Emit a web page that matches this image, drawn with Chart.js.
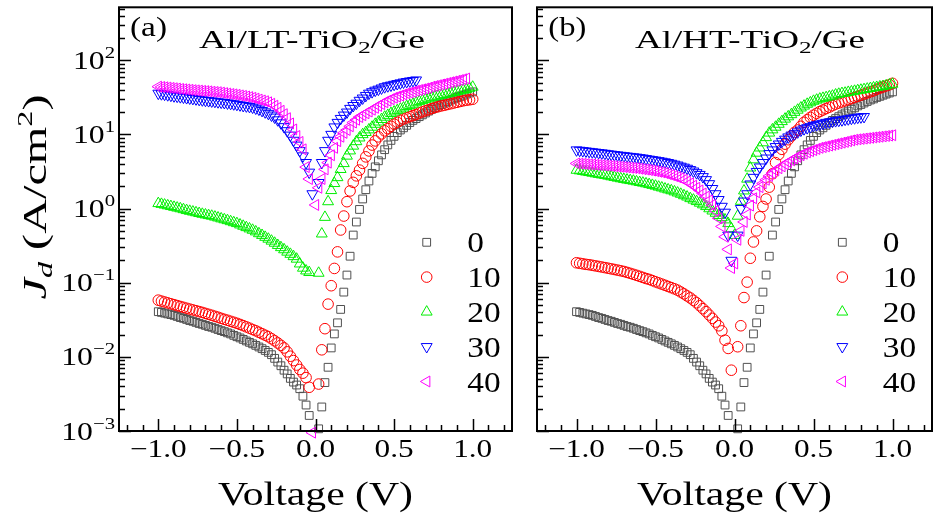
<!DOCTYPE html>
<html>
<head>
<meta charset="utf-8">
<script src="https://cdn.jsdelivr.net/npm/chart.js@4.4.1/dist/chart.umd.min.js"></script>
<style>
  body { margin: 0; background: #fff; }
  #wrap { position: relative; width: 942px; height: 521px; }
  #wrap canvas { position: absolute; top: 0; }
</style>
</head>
<body>
<div id="wrap">
  <canvas id="panelA" width="520" height="521" style="left:0"></canvas>
  <canvas id="panelB" width="422" height="521" style="left:520px"></canvas>
</div>
<script>
// bias voltage (V)
var volts = [
  -1.00, -0.98, -0.96, -0.94, -0.92, -0.90, -0.88, -0.86, -0.84, -0.82,
  -0.80, -0.78, -0.76, -0.74, -0.72, -0.70, -0.68, -0.66, -0.64, -0.62,
  -0.60, -0.58, -0.56, -0.54, -0.52, -0.50, -0.48, -0.46, -0.44, -0.42,
  -0.40, -0.38, -0.36, -0.34, -0.32, -0.30, -0.28, -0.26, -0.24, -0.22,
  -0.20, -0.18, -0.16, -0.14, -0.12, -0.10, -0.08, -0.06, -0.04, -0.02,
  0.00,
  0.02, 0.04, 0.06, 0.08, 0.10, 0.12, 0.14, 0.16, 0.18, 0.20,
  0.22, 0.24, 0.26, 0.28, 0.30, 0.32, 0.34, 0.36, 0.38, 0.40,
  0.42, 0.44, 0.46, 0.48, 0.50, 0.52, 0.54, 0.56, 0.58, 0.60,
  0.62, 0.64, 0.66, 0.68, 0.70, 0.72, 0.74, 0.76, 0.78, 0.80,
  0.82, 0.84, 0.86, 0.88, 0.90, 0.92, 0.94, 0.96, 0.98, 1.00
];

var thicknessLabels = ['0', '10', '20', '30', '40'];

// J_d (A/cm2), no TiO2 (same curve in both panels)
var jdRef = [
  0.0407, 0.0398, 0.0389, 0.0380, 0.0372, 0.0363, 0.0351, 0.0339, 0.0331, 0.0320,
  0.0309, 0.0302, 0.0292, 0.0282, 0.0275, 0.0266, 0.0257, 0.0251, 0.0243, 0.0234,
  0.0226, 0.0219, 0.0211, 0.0204, 0.0195, 0.0187, 0.0180, 0.0172, 0.0164, 0.0157,
  0.0150, 0.0143, 0.0136, 0.0129, 0.0122, 0.0115, 0.0107, 0.00955, 0.00851, 0.00759,
  0.00661, 0.00589, 0.00513, 0.00457, 0.00417, 0.00372, 0.00295, 0.00224, 0.00162, null,
  null,
  0.00107, 0.00211, 0.0045, 0.00724, 0.0132, 0.0204, 0.0288, 0.0437, 0.0748, 0.127,
  0.228, 0.44, 0.66, 0.975, 1.35, 1.80, 2.36, 2.99, 3.66, 4.42,
  5.31, 6.24, 7.24, 8.32, 9.44, 10.6, 11.5, 12.3, 13.3, 14.5,
  15.5, 16.4, 17.4, 18.4, 19.5, 20.7, 21.9, 22.9, 24.3, 25.4,
  26.6, 27.9, 29.2, 30.2, 31.6, 32.7, 33.9, 35.1, 36.3, 37.6
];

// (a) Al/LT-TiO2/Ge
var jdLT10 = [
  0.0582, 0.0565, 0.0550, 0.0535, 0.0520, 0.0506, 0.0492, 0.0479, 0.0466, 0.0453,
  0.0441, 0.0430, 0.0419, 0.0408, 0.0398, 0.0386, 0.0375, 0.0364, 0.0353, 0.0343,
  0.0331, 0.0321, 0.0312, 0.0302, 0.0293, 0.0284, 0.0274, 0.0264, 0.0254, 0.0244,
  0.0234, 0.0225, 0.0215, 0.0205, 0.0196, 0.0187, 0.0176, 0.0165, 0.0154, 0.0143,
  0.0132, 0.0117, 0.0102, 0.00891, 0.00776, 0.00676, 0.00603, 0.00525, 0.00389, null,
  null,
  0.0043, 0.01245, 0.024, 0.0515, 0.0912, 0.156, 0.261, 0.515, 0.794, 1.24,
  1.73, 2.26, 2.77, 3.31, 4.08, 4.99, 6.0, 7.2, 8.2, 9.3,
  10.2, 11.2, 12.0, 12.9, 13.8, 14.6, 15.5, 16.2, 16.8, 17.4,
  18.0, 18.6, 19.5, 20.2, 20.9, 21.6, 22.4, 23.2, 23.7, 24.3,
  24.8, 25.4, 26.0, 26.6, 27.2, 27.9, 28.5, 29.0, 29.4, 29.9
];
var jdLT20 = [
  1.175, 1.148, 1.122, 1.096, 1.072, 1.047, 1.023, 1.0, 0.973, 0.946,
  0.925, 0.904, 0.883, 0.863, 0.843, 0.826, 0.809, 0.794, 0.773, 0.752,
  0.731, 0.711, 0.692, 0.670, 0.649, 0.631, 0.605, 0.581, 0.557, 0.535,
  0.513, 0.488, 0.461, 0.437, 0.412, 0.389, 0.366, 0.343, 0.320, 0.299,
  0.280, 0.260, 0.243, 0.226, 0.209, 0.180, 0.158, 0.145, 0.138, null,
  null,
  0.135, 0.457, 0.766, 1.245, 1.76, 2.19, 2.63, 3.39, 4.07, 5.13,
  6.03, 7.0, 8.04, 9.02, 10.0, 10.7, 11.6, 12.6, 13.8, 14.8,
  16.0, 17.2, 18.2, 19.3, 20.2, 21.1, 22.1, 22.9, 24.0, 24.8,
  25.7, 26.9, 27.9, 28.8, 29.9, 30.5, 31.6, 32.4, 33.1, 33.9,
  34.7, 35.5, 36.3, 37.2, 38.0, 38.9, 39.8, 40.7, 42.2, 43.7
];
var jdLT30 = [
  35.9, 35.3, 34.8, 34.2, 33.7, 33.1, 32.7, 32.2, 31.8, 31.3,
  30.9, 30.5, 30.1, 29.6, 29.2, 28.8, 28.5, 28.2, 27.9, 27.5,
  27.2, 26.9, 26.5, 26.2, 25.8, 25.4, 25.0, 24.5, 24.2, 23.8,
  23.3, 22.6, 21.9, 21.0, 20.1, 19.2, 18.2, 17.1, 15.7, 14.3,
  12.7, 11.2, 9.77, 8.32, 7.16, 6.03, 5.13, 4.17, 3.09, 1.58,
  null,
  2.24, 4.17, 6.03, 8.32, 10.0, 12.6, 14.5, 16.4, 18.2, 20.0,
  22.4, 24.5, 26.3, 28.8, 30.9, 33.5, 35.9, 37.6, 39.4, 40.7,
  42.2, 43.9, 45.2, 46.2, 47.3, 48.4, 49.5, 50.7, 51.6, 52.5,
  53.3, 54.2, null, null, null, null, null, null, null, null,
  null, null, null, null, null, null, null, null, null, null
];
var jdLT40 = [
  44.2, 43.8, 43.4, 43.0, 42.5, 42.1, 41.7, 41.2, 40.8, 40.5,
  40.1, 39.7, 39.4, 39.1, 38.8, 38.5, 38.2, 37.8, 37.5, 37.2,
  36.7, 36.2, 35.7, 35.2, 34.8, 34.3, 33.7, 33.2, 32.6, 32.0,
  31.3, 30.5, 29.6, 28.8, 28.1, 27.2, 26.0, 24.5, 22.9, 20.9,
  18.8, 16.6, 14.1, 11.7, 9.55, 7.94, 6.31, 3.63, 2.51, 0.00095,
  1.12,
  1.91, 2.51, 3.39, 4.17, 5.25, 6.61, 8.13, 9.33, 10.5, 11.5,
  12.9, 14.5, 15.8, 17.2, 18.2, 19.3, 20.4, 21.6, 22.9, 24.3,
  25.7, 27.2, 28.5, 29.9, 31.3, 32.4, 33.5, 34.7, 35.9, 36.7,
  37.6, 38.9, 39.8, 40.7, 41.7, 42.7, 44.2, 45.2, 46.2, 47.3,
  48.4, 49.5, 50.7, 51.9, 53.1, 54.3, 55.6, 56.9, null, null
];

// (b) Al/HT-TiO2/Ge
var jdHT10 = [
  0.186, 0.183, 0.180, 0.177, 0.175, 0.172, 0.169, 0.166, 0.163, 0.160,
  0.157, 0.154, 0.151, 0.148, 0.145, 0.142, 0.138, 0.134, 0.130, 0.126,
  0.122, 0.118, 0.114, 0.111, 0.107, 0.103, 0.0995, 0.0959, 0.0925, 0.0891,
  0.0859, 0.0828, 0.0794, 0.0750, 0.0708, 0.0664, 0.0624, 0.0579, 0.0537, 0.0490,
  0.0447, 0.0407, 0.0367, 0.0331, 0.0295, 0.0263, 0.0224, 0.0168, 0.0130, 0.00661,
  null,
  0.0137, 0.0263, 0.0631, 0.102, 0.214, 0.355, 0.501, 0.776, 1.07, 1.35,
  1.95, 2.95, 4.17, 5.37, 6.31, 7.41, 8.51, 9.55, 10.7, 11.5,
  12.9, 14.6, 15.8, 17.0, 18.2, 19.3, 20.4, 21.4, 22.4, 23.4,
  24.5, 25.7, 26.6, 27.5, 28.5, 29.5, 30.5, 31.6, 32.7, 33.9,
  35.1, 36.3, 37.6, 38.9, 40.7, 42.2, 43.7, 45.2, 46.8, 49.0
];
var jdHT20 = [
  3.31, 3.25, 3.19, 3.13, 3.08, 3.02, 2.96, 2.91, 2.86, 2.82,
  2.76, 2.70, 2.65, 2.59, 2.54, 2.49, 2.44, 2.40, 2.36, 2.31,
  2.26, 2.22, 2.17, 2.12, 2.07, 2.02, 1.96, 1.91, 1.85, 1.80,
  1.75, 1.69, 1.63, 1.57, 1.50, 1.44, 1.37, 1.31, 1.25, 1.19,
  1.13, 1.07, 1.0, 0.933, 0.871, 0.813, 0.759, 0.708, 0.631, 0.537,
  0.437,
  0.794, 1.26, 1.74, 2.51, 3.55, 4.57, 5.62, 6.61, 7.76, 9.12,
  10.5, 11.6, 12.6, 13.8, 15.0, 16.2, 17.4, 18.6, 20.0, 21.4,
  22.9, 24.3, 25.7, 26.9, 28.2, 29.2, 30.2, 30.9, 31.6, 32.4,
  33.1, 34.3, 35.1, 35.9, 36.3, 37.2, 37.8, 38.5, 39.2, 39.8,
  40.5, 41.2, 41.9, 42.7, 43.4, 44.1, 44.7, 45.7, 46.8, 47.9
];
var jdHT30 = [
  6.17, 6.10, 6.03, 5.96, 5.89, 5.82, 5.75, 5.69, 5.62, 5.55,
  5.47, 5.40, 5.33, 5.27, 5.21, 5.15, 5.09, 5.04, 4.98, 4.92,
  4.85, 4.79, 4.71, 4.63, 4.56, 4.49, 4.42, 4.34, 4.26, 4.17,
  4.07, 3.96, 3.85, 3.72, 3.61, 3.49, 3.35, 3.20, 3.04, 2.88,
  2.69, 2.45, 2.16, 1.86, 1.58, 1.32, 1.07, 0.891, 0.437, 0.20,
  null,
  0.437, 1.0, 1.26, 1.58, 2.14, 2.63, 3.16, 3.63, 4.17, 4.79,
  5.50, 6.17, 6.84, 7.41, 8.04, 8.61, 9.23, 9.77, 10.2, 10.8,
  11.4, 11.9, 12.3, 12.7, 13.2, 13.5, 13.8, 14.1, 14.5, 14.7,
  15.0, 15.3, 15.5, 15.7, 16.0, 16.2, 16.5, 16.7, 17.0, 17.2,
  17.4, null, null, null, null, null, null, null, null, null
];
var jdHT40 = [
  4.07, 4.05, 4.02, 3.99, 3.96, 3.94, 3.91, 3.88, 3.85, 3.83,
  3.80, 3.77, 3.73, 3.70, 3.66, 3.63, 3.60, 3.56, 3.53, 3.50,
  3.45, 3.40, 3.36, 3.31, 3.26, 3.20, 3.14, 3.08, 3.01, 2.92,
  2.84, 2.75, 2.66, 2.57, 2.45, 2.32, 2.19, 2.04, 1.91, 1.76,
  1.60, 1.45, 1.29, 1.12, 0.933, 0.741, 0.575, 0.417, 0.282, 0.158,
  0.182,
  0.380, 0.501, 0.661, 0.832, 1.10, 1.38, 1.66, 1.95, 2.19, 2.45,
  2.75, 3.02, 3.27, 3.51, 3.72, 3.98, 4.22, 4.47, 4.73, 5.01,
  5.25, 5.50, 5.75, 5.96, 6.17, 6.38, 6.61, 6.76, 6.92, 7.08,
  7.24, 7.41, 7.59, 7.76, 7.94, 8.13, 8.32, 8.51, 8.61, 8.71,
  8.81, 8.91, 9.02, 9.12, 9.23, 9.33, 9.44, 9.55, 9.66, 9.77
];

// axis ticks
var xMajorTicks = [-1.0, -0.5, 0.0, 0.5, 1.0];
var xMajorLabels = ['\u22121.0', '\u22120.5', '0.0', '0.5', '1.0'];
var yDecadeTicks = [1e-3, 1e-2, 1e-1, 1, 10, 100];
var yDecadeExponents = ['\u22123', '\u22122', '\u22121', '0', '1', '2'];

var markerStyles = [
  { pointStyle: 'rect', rotation: 0, radius: 5.5, color: '#505050' },
  { pointStyle: 'circle', rotation: 0, radius: 5.3, color: '#ff0000' },
  { pointStyle: 'triangle', rotation: 0, radius: 6.3, color: '#00ee00' },
  { pointStyle: 'triangle', rotation: 180, radius: 6.3, color: '#0000ff' },
  { pointStyle: 'triangle', rotation: 270, radius: 6.3, color: '#ff00ff' }
];

var SERIF = '"Liberation Serif", serif';

function partsWidth(ctx, parts) {
  var w = 0;
  parts.forEach(function (p) { ctx.font = p.font; w += ctx.measureText(p.text).width; });
  return w;
}

// draw a run of text pieces (sub/superscripts via dy), stretched horizontally by sx
function drawParts(ctx, parts, x, y, align, sx) {
  sx = sx || 1;
  var w = partsWidth(ctx, parts) * sx;
  var cx = align === 'right' ? x - w : (align === 'center' ? x - w / 2 : x);
  ctx.textAlign = 'left';
  ctx.textBaseline = 'alphabetic';
  parts.forEach(function (p) {
    ctx.font = p.font;
    ctx.save();
    ctx.translate(cx, y + (p.dy || 0));
    ctx.scale(sx, 1);
    ctx.fillText(p.text, 0, 0);
    ctx.restore();
    cx += ctx.measureText(p.text).width * sx;
  });
}

function drawFit(ctx, parts, x, y, align, width) {
  drawParts(ctx, parts, x, y, align, width / partsWidth(ctx, parts));
}

function drawMarker(ctx, st, x, y) {
  ctx.strokeStyle = st.color;
  ctx.fillStyle = 'rgba(0,0,0,0)';
  ctx.lineWidth = 1;
  Chart.helpers.drawPoint(ctx, { pointStyle: st.pointStyle, rotation: st.rotation, radius: st.radius, borderWidth: 1 }, x, y);
}

var panelDecor = {
  id: 'panelDecor',
  afterDatasetsDraw: function (chart, args, o) {
    var ctx = chart.ctx, a = chart.chartArea;
    var xs = chart.scales.x, ys = chart.scales.y;
    ctx.save();
    ctx.strokeStyle = '#000';
    ctx.fillStyle = '#000';

    // inward tick marks
    ctx.lineWidth = 1.5;
    ctx.beginPath();
    for (var k = -12; k <= 12; k++) {
      var px = Math.round(xs.getPixelForValue(k / 10)) + 0.5;
      var len = k % 5 === 0 ? 12 : 6;
      ctx.moveTo(px, a.bottom);
      ctx.lineTo(px, a.bottom - len);
    }
    yDecadeTicks.forEach(function (d) {
      for (var m = 1; m <= 9; m++) {
        var v = d * m;
        if (v > ys.max) break;
        var py = Math.round(ys.getPixelForValue(v)) + 0.5;
        ctx.moveTo(a.left, py);
        ctx.lineTo(a.left + (m === 1 ? 12 : 6), py);
      }
    });
    ctx.stroke();

    ctx.lineWidth = 2;
    ctx.strokeRect(a.left, a.top, a.right - a.left, a.bottom - a.top);

    // x tick labels and title
    xMajorTicks.forEach(function (v, i) {
      drawParts(ctx, [{ text: xMajorLabels[i], font: '25px ' + SERIF }],
        xs.getPixelForValue(v), a.bottom + 25.5, 'center', 1.25);
    });
    drawFit(ctx, [{ text: 'Voltage (V)', font: '33px ' + SERIF }],
      xs.getPixelForValue(0), 505, 'center', 195);

    // y tick labels and title (left panel only)
    if (o.yLabels) {
      yDecadeTicks.forEach(function (d, i) {
        drawParts(ctx, [
          { text: '10', font: '26px ' + SERIF },
          { text: yDecadeExponents[i], font: '17px ' + SERIF, dy: -11 }
        ], a.left - 4, ys.getPixelForValue(d) + 8.5, 'right', 1.22);
      });
      ctx.save();
      ctx.translate(46, 197);
      ctx.rotate(-Math.PI / 2);
      drawFit(ctx, [
        { text: 'J', font: 'italic 33px ' + SERIF },
        { text: 'd', font: 'italic 22px ' + SERIF, dy: 6 },
        { text: ' (A/cm', font: '33px ' + SERIF },
        { text: '2', font: '22px ' + SERIF, dy: -14 },
        { text: ')', font: '33px ' + SERIF }
      ], 0, 0, 'center', 205);
      ctx.restore();
    }

    // panel tag and sample name
    drawFit(ctx, [{ text: o.tag, font: '27px ' + SERIF }], o.tagX, 36, 'left', o.tagW);
    drawFit(ctx, [
      { text: o.name[0], font: '25px ' + SERIF },
      { text: '2', font: '17px ' + SERIF, dy: 5 },
      { text: o.name[1], font: '25px ' + SERIF }
    ], o.nameX, 48.3, 'left', o.nameW);

    // legend
    chart.data.datasets.forEach(function (ds, i) {
      var y = 242.3 + i * 34.8;
      drawMarker(ctx, markerStyles[i], o.legendX, y);
      ctx.fillStyle = '#000';
      drawParts(ctx, [{ text: ds.label, font: '29px ' + SERIF }], o.legendX + 40.5, y + 10, 'left', 1.15);
    });
    ctx.restore();
  }
};

function toPoints(values) {
  return volts.map(function (v, i) { return { x: v, y: values[i] }; });
}

function makeDatasets(seriesList) {
  return seriesList.map(function (vals, i) {
    var st = markerStyles[i];
    return {
      label: thicknessLabels[i],
      data: toPoints(vals),
      showLine: false,
      pointStyle: st.pointStyle,
      pointRotation: st.rotation,
      pointRadius: st.radius,
      pointHoverRadius: st.radius,
      pointBorderWidth: 1,
      borderColor: st.color,
      pointBorderColor: st.color,
      backgroundColor: 'rgba(0,0,0,0)',
      pointBackgroundColor: 'rgba(0,0,0,0)',
      clip: 8,
      order: 5 - i
    };
  });
}

function makePanel(id, seriesList, padding, deco) {
  return new Chart(document.getElementById(id), {
    type: 'scatter',
    data: { datasets: makeDatasets(seriesList) },
    options: {
      responsive: false,
      animation: false,
      devicePixelRatio: 1,
      layout: { padding: padding },
      scales: {
        x: { type: 'linear', min: -1.25, max: 1.25, display: false },
        y: { type: 'logarithmic', min: 0.001, max: 520, display: false }
      },
      plugins: {
        legend: { display: false },
        tooltip: { enabled: false },
        panelDecor: deco
      }
    },
    plugins: [panelDecor]
  });
}

makePanel('panelA', [jdRef, jdLT10, jdLT20, jdLT30, jdLT40],
  { left: 119, right: 8, top: 7, bottom: 90 },
  { yLabels: true, tag: '(a)', tagX: 130, tagW: 37, name: ['Al/LT-TiO', '/Ge'], nameX: 199, nameW: 226, legendX: 426.7 });

makePanel('panelB', [jdRef, jdHT10, jdHT20, jdHT30, jdHT40],
  { left: 17, right: 10, top: 7, bottom: 90 },
  { yLabels: false, tag: '(b)', tagX: 28.3, tagW: 38, name: ['Al/HT-TiO', '/Ge'], nameX: 115, nameW: 230, legendX: 322.3 });
</script>
</body>
</html>
